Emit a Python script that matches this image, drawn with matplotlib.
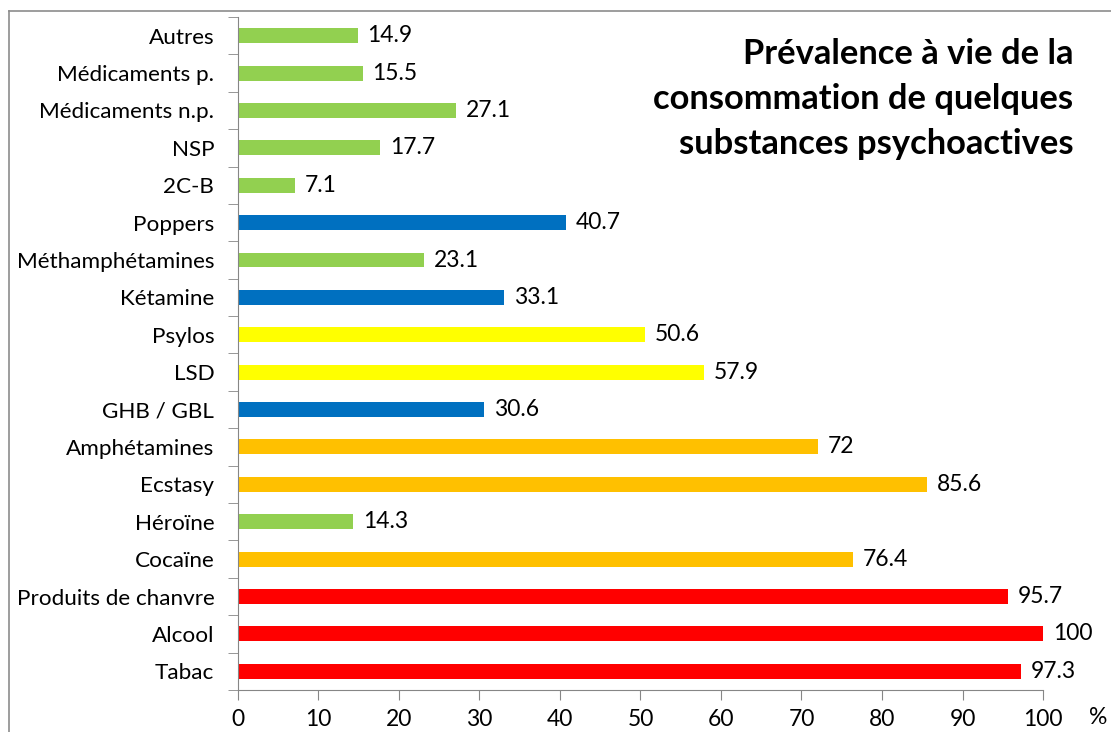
import matplotlib.pyplot as plt
from matplotlib.lines import Line2D

plt.rcParams['font.family'] = ['Lato', 'DejaVu Sans']

substances = ['Tabac', 'Alcool', 'Produits de chanvre', 'Cocaïne', 'Héroïne',
              'Ecstasy', 'Amphétamines', 'GHB / GBL', 'LSD', 'Psylos',
              'Kétamine', 'Méthamphétamines', 'Poppers', '2C-B', 'NSP',
              'Médicaments n.p.', 'Médicaments p.', 'Autres']
prevalence = [97.3, 100, 95.7, 76.4, 14.3, 85.6, 72, 30.6, 57.9, 50.6,
              33.1, 23.1, 40.7, 7.1, 17.7, 27.1, 15.5, 14.9]
groups = ['red', 'red', 'red', 'orange', 'green', 'orange', 'orange', 'blue',
          'yellow', 'yellow', 'blue', 'green', 'blue', 'green', 'green',
          'green', 'green', 'green']

palette = {'red': '#FF0000', 'orange': '#FFC000', 'yellow': '#FFFF00',
           'blue': '#0070C0', 'green': '#92D050'}

fig = plt.figure(figsize=(11.11, 7.32), dpi=100)
ax = fig.add_axes([0.2142, 0.0574, 0.7246, 0.9194])

ypos = range(len(substances))
ax.barh(ypos, prevalence, height=0.4, color=[palette[g] for g in groups])

for y, v in zip(ypos, prevalence):
    ax.text(v + 1.2, y, f'{v:g}', va='center', ha='left', fontsize=16.5)

ax.set_xlim(0, 100)
ax.set_ylim(-0.5, len(substances) - 0.5)
ax.set_xticks(range(0, 101, 10))
ax.tick_params(axis='x', labelsize=16.5, length=7, color='#868686', pad=7)

# category labels centred on bars, tick marks between categories
ax.set_yticks(list(ypos))
ax.set_yticklabels(substances, fontsize=16.2)
ax.tick_params(axis='y', length=0, pad=17)
ax.set_yticks([i - 0.5 for i in range(len(substances) + 1)], minor=True)
ax.tick_params(axis='y', which='minor', length=7, color='#868686')

for side in ['top', 'right']:
    ax.spines[side].set_visible(False)
for side in ['left', 'bottom']:
    ax.spines[side].set_color('#868686')

fig.text(0.9885, 0.02, '%', fontsize=16.5, ha='center', va='center')

fig.text(0.966, 0.948, 'Prévalence à vie de la\nconsommation de quelques\nsubstances psychoactives',
         ha='right', va='top', fontsize=24.8, fontweight='bold', linespacing=1.5)

# outer chart frame
fig.add_artist(Line2D([9 / 1111, 9 / 1111], [0, 1 - 11 / 732], color='#8c8c8c', lw=1.2))
fig.add_artist(Line2D([9 / 1111, 1], [1 - 11 / 732, 1 - 11 / 732], color='#8c8c8c', lw=1.2))

fig.savefig('out.png', dpi=100)
